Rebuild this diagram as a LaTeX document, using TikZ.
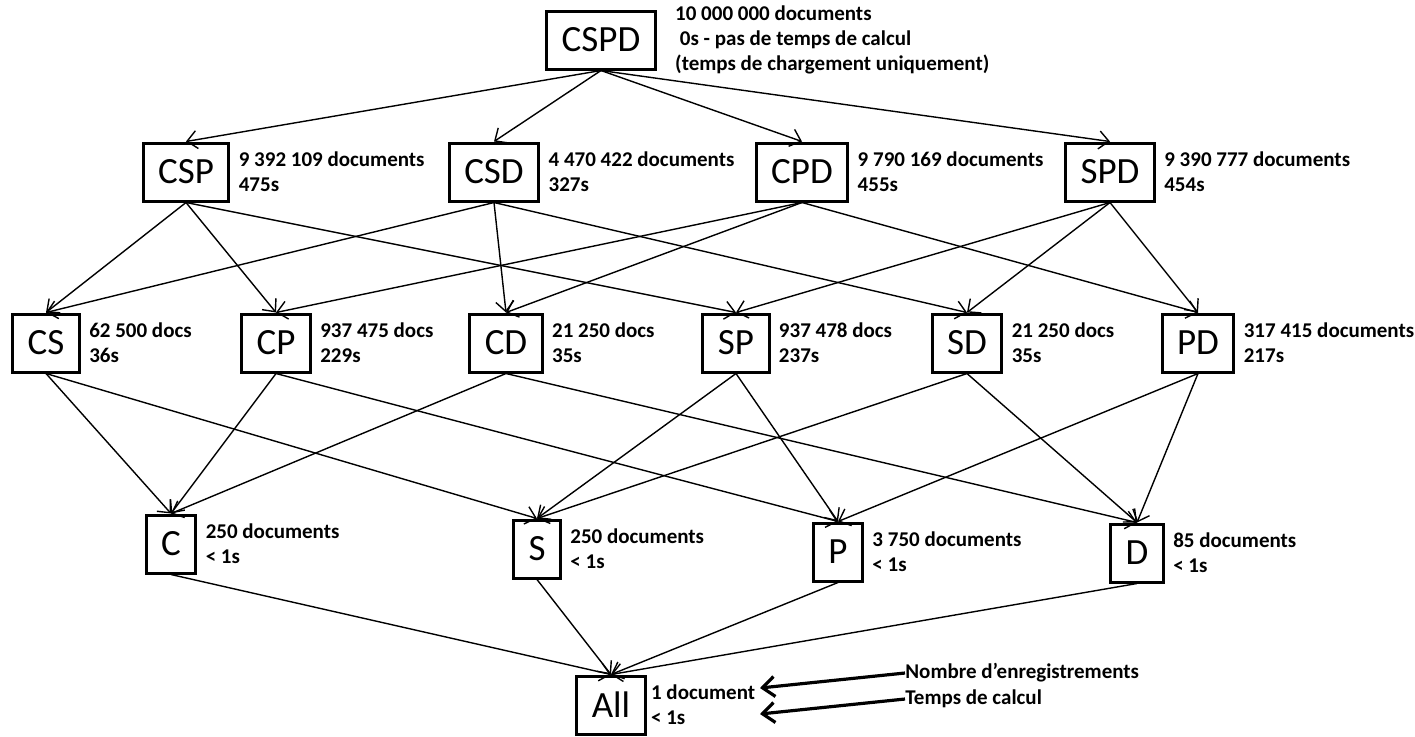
\documentclass[tikz,border=0pt]{standalone}
\usepackage{fontspec}
\setmainfont{Carlito}
\usetikzlibrary{arrows.meta}

\tikzset{
  cube/.style={draw, line width=1.5pt, inner xsep=7.5pt, inner ysep=0pt,
    minimum height=29pt, font=\fontsize{18.5}{21}\selectfont},
  info/.style={anchor=west, align=left, inner sep=0pt,
    font=\bfseries\fontsize{10.5}{12.5}\selectfont},
  link/.style={line width=0.7pt, -{Straight Barb[length=5pt,width=9pt]}},
  hint/.style={line width=1.6pt, -{Straight Barb[length=6pt,width=10pt,line width=1.6pt]}}
}

\begin{document}
\begin{tikzpicture}[x=0.5pt, y=-0.5pt]
    \path [use as bounding box] (0, 0) rectangle (1415, 736);

    \newcommand{\acube}[5]{
      \node[cube] (#1) at (#2, #3) {#4};
      \node[info, right=4pt] (#1info) at (#1.east) {#5};
    }

    % top
    \node[cube] (CSPD) at (601, 40) {CSPD};
    \node[info, right=9pt] (CSPDinfo) at (CSPD.east)
      {10 000 000 documents\\\ 0s - pas de temps de calcul\\(temps de chargement uniquement)};

    % three dimensions
    \acube{CSP}{186}{172}{CSP}{9 392 109 documents\\475s}
    \acube{CSD}{494}{172}{CSD}{4 470 422 documents\\327s}
    \acube{CPD}{802}{172}{CPD}{9 790 169 documents\\455s}
    \acube{SPD}{1110}{172}{SPD}{9 390 777 documents\\454s}

    % two dimensions
    \acube{CS}{46}{343}{CS}{62 500 docs\\36s}
    \acube{CP}{276}{343}{CP}{937 475 docs\\229s}
    \acube{CD}{506}{343}{CD}{21 250 docs\\35s}
    \acube{SP}{736}{343}{SP}{937 478 docs\\237s}
    \acube{SD}{967}{343}{SD}{21 250 docs\\35s}
    \acube{PD}{1198}{343}{PD}{317 415 documents\\217s}

    % one dimension
    \acube{C}{171}{544}{C}{250 documents\\< 1s}
    \acube{S}{537}{549}{S}{250 documents\\< 1s}
    \acube{P}{838}{552}{P}{3 750 documents\\< 1s}
    \acube{D}{1137}{553}{D}{85 documents\\< 1s}

    % bottom
    \node[cube] (All) at (611, 705) {All};
    \node[info, right=2pt] (Allinfo) at (All.east) {1 document\\< 1s};

    \foreach \a/\b in {CSPD/CSP, CSPD/CSD, CSPD/CPD, CSPD/SPD,
        CSP/CS, CSP/CP, CSP/SP, CSD/CS, CSD/CD, CSD/SD,
        CPD/CP, CPD/CD, CPD/PD, SPD/SP, SPD/SD, SPD/PD,
        CS/C, CS/S, CP/C, CP/P, CD/C, CD/D,
        SP/S, SP/P, SD/S, SD/D, PD/P, PD/D,
        C/All, S/All, P/All, D/All}
      \draw[link] (\a.south) -- (\b.north);

    % legend
    \node[info] (nbrec) at (905, 673) {Nombre d’enregistrements};
    \node[info] (tcalc) at (905, 699) {Temps de calcul};
    \coordinate (nbrecTip) at (760, 688);
    \coordinate (tcalcTip) at (760, 714);
    \draw[hint] (nbrec.west) -- (nbrecTip);
    \draw[hint] (tcalc.west) -- (tcalcTip);

  \end{tikzpicture}
\end{document}
